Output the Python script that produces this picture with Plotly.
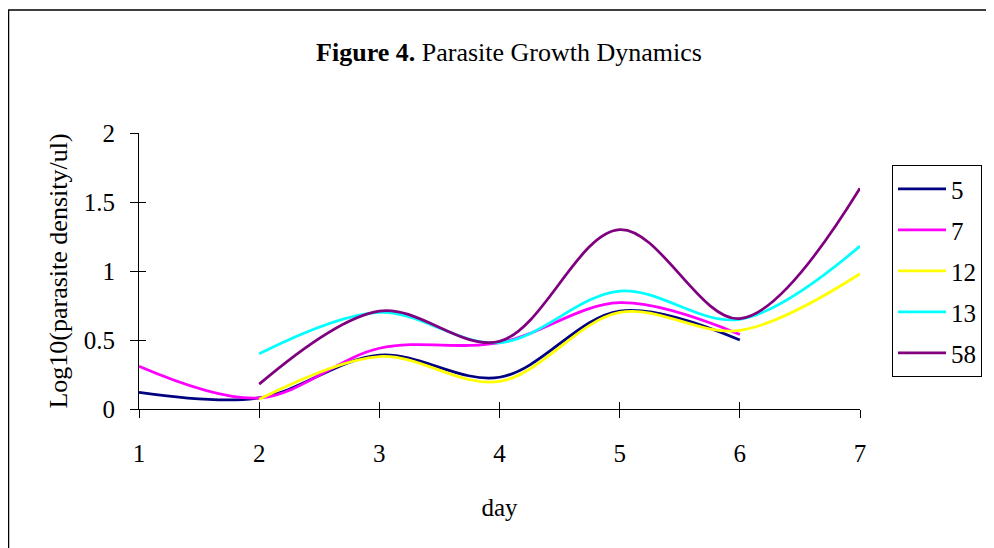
import plotly.graph_objects as go

days = [1, 2, 3, 4, 5, 6, 7]
series_names = ["5", "7", "12", "13", "58"]
s5 = [0.12, 0.08, 0.39, 0.23, 0.71, 0.50, None]
s7 = [0.31, 0.08, 0.44, 0.48, 0.77, 0.54, None]
s12 = [None, 0.07, 0.38, 0.20, 0.70, 0.57, 0.98]
s13 = [None, 0.40, 0.70, 0.48, 0.855, 0.65, 1.18]
s58 = [None, 0.18, 0.71, 0.49, 1.30, 0.655, 1.60]
colors = ["#000080", "#FF00FF", "#FFFF00", "#00FFFF", "#800080"]
y_ticks = [0, 0.5, 1, 1.5, 2]
y_tick_text = ["0", "0.5", "1", "1.5", "2"]

FONT = "Liberation Serif, Times New Roman, serif"
FS = 25

fig = go.Figure()
for name, vals, c in zip(series_names, [s5, s7, s12, s13, s58], colors):
    xs = [d for d, v in zip(days, vals) if v is not None]
    ys = [v for v in vals if v is not None]
    fig.add_trace(go.Scatter(x=xs, y=ys, mode="lines", name=name, legendgroup=name,
                             line=dict(color=c, width=2.75, shape="spline", smoothing=1.0)))

# invisible trace to carry the inside-tick overlay axes (cross ticks)
fig.add_trace(go.Scatter(x=[1], y=[0], xaxis="x2", yaxis="y2", mode="markers",
                         marker=dict(opacity=0), showlegend=False, hoverinfo="skip"))

# page offset of the plot div is 8px (body margin)
OFF = 8
W, H = 994 - OFF, 548 - OFF
L, R, T, B = 139 - OFF, 860 - OFF, 133 - OFF, 409 - OFF
fig.update_layout(
    width=W, height=H,
    margin=dict(l=L, r=W - R, t=T, b=H - B, pad=0, autoexpand=False),
    paper_bgcolor="white", plot_bgcolor="white",
    font=dict(family=FONT, size=FS, color="black"),
    title=dict(text="<b>Figure 4.</b> Parasite Growth Dynamics", x=(509 - OFF) / W, xanchor="center",
               y=1 - (52 - OFF) / H, yanchor="middle", yref="container",
               font=dict(family=FONT, size=26, color="black")),
    xaxis=dict(range=[1, 7], tickvals=days, ticks="outside", ticklen=8, tickcolor="black",
               showline=True, linecolor="black", linewidth=1, showgrid=False, zeroline=False,
               ticklabelstandoff=14,
               title=dict(text="day", standoff=32, font=dict(size=FS))),
    yaxis=dict(range=[0, 2], tickvals=y_ticks, ticktext=y_tick_text, ticks="outside", ticklen=8,
               tickcolor="black", showline=True, linecolor="black", linewidth=1,
               showgrid=False, zeroline=False, ticklabelstandoff=10,
               title=dict(text="Log10(parasite density/ul)", standoff=8, font=dict(size=26))),
    xaxis2=dict(range=[1, 7], tickvals=days, ticks="inside", ticklen=7, tickcolor="black",
                showticklabels=False, showline=False, showgrid=False, zeroline=False,
                overlaying="x", side="bottom", anchor="y2"),
    yaxis2=dict(range=[0, 2], tickvals=y_ticks, ticks="inside", ticklen=7, tickcolor="black",
                showticklabels=False, showline=False, showgrid=False, zeroline=False,
                overlaying="y", side="left", anchor="x2"),
    legend=dict(x=(892 - OFF - L) / (R - L), y=(B - (165 - OFF)) / (B - T), xanchor="left", yanchor="top",
                bordercolor="black", borderwidth=1, bgcolor="white",
                font=dict(family=FONT, size=FS), tracegroupgap=5.5, itemwidth=48),
    shapes=[dict(type="rect", xref="paper", yref="paper",
                 x0=(0.5 - L) / (R - L), x1=(1000 - L) / (R - L),
                 y0=(B - 560) / (B - T), y1=(B - (10 - OFF)) / (B - T),
                 line=dict(color="black", width=1.5), fillcolor="rgba(0,0,0,0)", layer="below")],
)
fig.write_html("out.html")
